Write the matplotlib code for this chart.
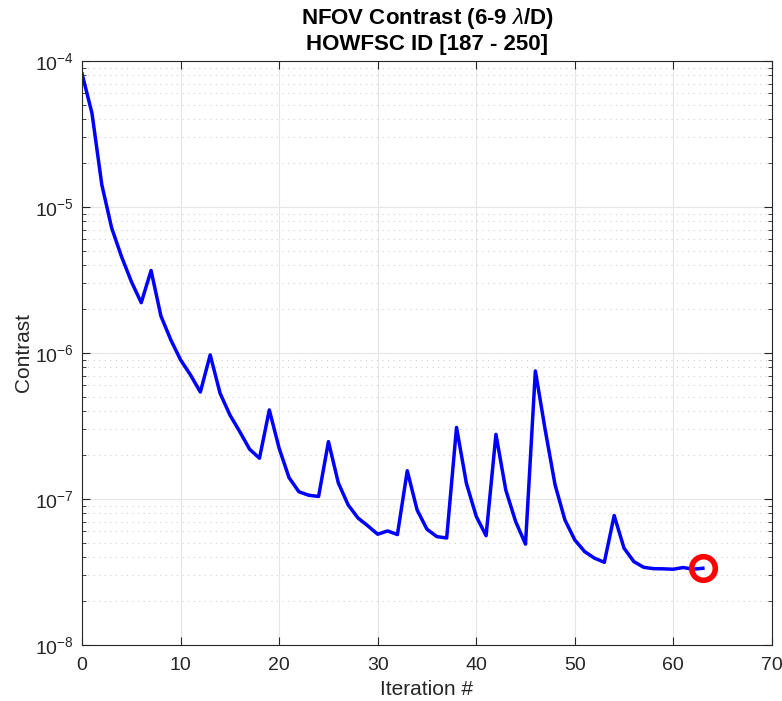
import matplotlib
matplotlib.use('Agg')
import matplotlib.pyplot as plt
from matplotlib.ticker import LogLocator, NullFormatter, MultipleLocator

plt.rcParams['font.family'] = ['Liberation Sans', 'DejaVu Sans']
plt.rcParams['mathtext.fontset'] = 'custom'
plt.rcParams['mathtext.rm'] = 'Liberation Sans'
plt.rcParams['mathtext.it'] = 'Liberation Sans:italic'
plt.rcParams['mathtext.bf'] = 'Liberation Sans:bold'

iterations = list(range(64))
contrast = [
    8.15e-5, 4.39e-5, 1.42e-5, 7.18e-6, 4.57e-6, 3.08e-6, 2.21e-6, 3.67e-6,
    1.79e-6, 1.23e-6, 8.95e-7, 7.07e-7, 5.4e-7, 9.7e-7, 5.3e-7, 3.76e-7,
    2.89e-7, 2.19e-7, 1.9e-7, 4.07e-7, 2.22e-7, 1.40e-7, 1.12e-7, 1.06e-7,
    1.04e-7, 2.47e-7, 1.29e-7, 9.1e-8, 7.4e-8, 6.54e-8, 5.73e-8, 6.04e-8,
    5.7e-8, 1.56e-7, 8.4e-8, 6.2e-8, 5.52e-8, 5.4e-8, 3.09e-7, 1.28e-7,
    7.6e-8, 5.6e-8, 2.77e-7, 1.15e-7, 7.0e-8, 4.9e-8, 7.53e-7, 2.97e-7,
    1.25e-7, 7.18e-8, 5.24e-8, 4.36e-8, 3.93e-8, 3.68e-8, 7.7e-8, 4.6e-8,
    3.72e-8, 3.40e-8, 3.33e-8, 3.32e-8, 3.3e-8, 3.39e-8, 3.3e-8, 3.35e-8,
]

fig = plt.figure(figsize=(7.82, 7.01), dpi=100)
ax = fig.add_axes([0.105, 0.080, 0.882, 0.833])

ax.semilogy(iterations, contrast, color='#0000ff', linewidth=2.5)
ax.plot(iterations[-1], contrast[-1], 'o', markersize=17, markerfacecolor='none',
        markeredgecolor='#ff0000', markeredgewidth=4)

ax.set_xlim(0, 70)
ax.set_ylim(1e-8, 1e-4)
ax.xaxis.set_major_locator(MultipleLocator(10))
ax.yaxis.set_major_locator(LogLocator(base=10, numticks=10))
ax.yaxis.set_minor_locator(LogLocator(base=10, subs=range(2, 10), numticks=20))
ax.yaxis.set_minor_formatter(NullFormatter())

ax.grid(True, which='major', color='#e6e6e6', linewidth=0.8, linestyle='-')
ax.grid(True, which='minor', axis='y', color='#d0d0d0', linewidth=0.8, linestyle=(0, (1, 4)))
ax.set_axisbelow(True)

ax.tick_params(which='both', direction='in', top=True, right=True, labelsize=14, colors='#262626')
ax.tick_params(which='major', length=6)
ax.tick_params(which='minor', length=3)
ax.tick_params(axis='x', pad=9)
ax.tick_params(axis='y', pad=6)
for s in ax.spines.values():
    s.set_color('#262626')
    s.set_linewidth(0.8)

ax.set_xlabel('Iteration #', fontsize=15, color='#262626', labelpad=4)
ax.set_ylabel('Contrast', fontsize=15, color='#262626', labelpad=1)
ax.set_title('NFOV Contrast (6-9 $\\lambda$/D)\nHOWFSC ID [187 - 250]', fontsize=16,
             fontweight='bold', linespacing=1.2, pad=8)

fig.savefig('out.png', dpi=100, facecolor='white')
